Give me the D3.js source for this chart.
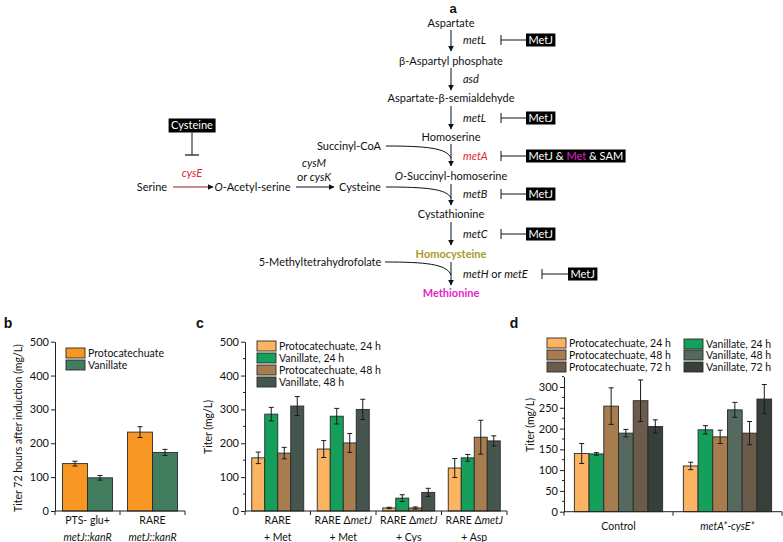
<!DOCTYPE html>
<html><head><meta charset="utf-8">
<script src="https://cdn.jsdelivr.net/npm/d3@7"></script>
<style>
body{margin:0;background:#fff;}
svg text{font-family:Lato,"Open Sans",sans-serif;fill:#111;}
</style></head><body>
<svg id="chart" width="783" height="542"></svg>
<script>
// ---------- DATA ----------
// Panel b
const bCategories = [["PTS- glu+", "<i>metJ::kanR</i>"], ["RARE", "<i>metJ::kanR</i>"]];
const bSeries = ["Protocatechuate", "Vanillate"];
const bValues = [[140, 98], [233, 173]];
const bErrors = [[7, 7], [16, 9]];
const bTicks = [0, 100, 200, 300, 400, 500];

// Panel c
const cCategories = [["RARE", "+ Met"], ["RARE Δ<i>metJ</i>", "+ Met"], ["RARE Δ<i>metJ</i>", "+ Cys"], ["RARE Δ<i>metJ</i>", "+ Asp"]];
const cSeries = ["Protocatechuate, 24 h", "Vanillate, 24 h", "Protocatechuate, 48 h", "Vanillate, 48 h"];
const cValues = [[157, 286, 171, 310], [183, 280, 201, 300], [9, 38, 9, 55], [127, 157, 218, 207]];
const cErrors = [[17, 20, 17, 28], [25, 23, 28, 30], [2, 10, 3, 12], [28, 10, 50, 15]];
const cTicks = [0, 100, 200, 300, 400, 500];

// Panel d
const dCategories = [["Control"], ["<i>metA*-cysE*</i>"]];
const dSeries = ["Protocatechuate, 24 h", "Vanillate, 24 h", "Protocatechuate, 48 h", "Vanillate, 48 h", "Protocatechuate, 72 h", "Vanillate, 72 h"];
const dValues = [[140, 139, 254, 189, 267, 205], [110, 197, 180, 245, 189, 271]];
const dErrors = [[24, 3, 44, 9, 50, 16], [9, 10, 16, 18, 28, 35]];
const dTicks = [0, 50, 100, 150, 200, 250, 300];

// ---------- DRAWING ----------
const svg = d3.select("#chart");
const defs = svg.append("defs");
defs.append("marker").attr("id", "ah").attr("viewBox", "0 0 10 10").attr("refX", 9).attr("refY", 5)
  .attr("markerWidth", 6).attr("markerHeight", 6).attr("markerUnits", "userSpaceOnUse").attr("orient", "auto")
  .append("path").attr("d", "M0,0 L10,5 L0,10 Z").attr("fill", "#111");

function dotPattern(id, base, dot) {
  const p = defs.append("pattern").attr("id", id).attr("width", 4).attr("height", 4).attr("patternUnits", "userSpaceOnUse");
  p.append("rect").attr("width", 4).attr("height", 4).attr("fill", base);
  p.append("circle").attr("cx", 1).attr("cy", 1).attr("r", 0.5).attr("fill", dot).attr("opacity", 0.5);
  p.append("circle").attr("cx", 3).attr("cy", 3).attr("r", 0.5).attr("fill", dot).attr("opacity", 0.35);
  return `url(#${id})`;
}

function rich(textSel, str, colorTag) {
  str.split(/(<[im]>.*?<\/[im]>)/).filter(s => s).forEach(s => {
    const t = textSel.append("tspan");
    if (s.startsWith("<i>")) t.text(s.slice(3, -4)).attr("font-style", "italic");
    else if (s.startsWith("<m>")) t.text(s.slice(3, -4)).style("fill", colorTag);
    else t.text(s);
  });
  return textSel;
}

function label(x, y, str, opt = {}) {
  const t = svg.append("text").attr("x", x).attr("y", y).attr("dy", "0.35em")
    .attr("text-anchor", opt.anchor || "middle").attr("font-size", opt.size || 11);
  if (opt.color) t.style("fill", opt.color);
  if (opt.weight) t.attr("font-weight", opt.weight);
  if (opt.italic) t.attr("font-style", "italic");
  return rich(t, str, opt.tagColor);
}

function barPanel(cfg) {
  const g = svg.append("g");
  const x = d3.scaleBand().domain(d3.range(cfg.cats.length)).range(cfg.xr).paddingInner(cfg.pad).paddingOuter(cfg.pad / 2);
  const xs = d3.scaleBand().domain(d3.range(cfg.series.length)).range([0, x.bandwidth()]);
  const y = d3.scaleLinear().domain([0, cfg.ymax]).range(cfg.yr);
  cfg.cats.forEach((c, ci) => cfg.series.forEach((s, si) => {
    const v = cfg.values[ci][si], e = cfg.errors[ci][si];
    const bx = x(ci) + xs(si), w = xs.bandwidth(), cx = bx + w / 2;
    g.append("rect").attr("x", bx).attr("y", y(v)).attr("width", w).attr("height", y(0) - y(v))
      .attr("fill", cfg.fills[si]).attr("stroke", "#2a2a2a").attr("stroke-width", 0.9);
    g.append("line").attr("x1", cx).attr("x2", cx).attr("y1", y(v + e)).attr("y2", y(Math.max(0, v - e))).attr("stroke", "#1a1a1a").attr("stroke-width", 1);
    [v + e, Math.max(0, v - e)].forEach(yy => g.append("line").attr("x1", cx - 2.5).attr("x2", cx + 2.5)
      .attr("y1", y(yy)).attr("y2", y(yy)).attr("stroke", "#1a1a1a").attr("stroke-width", 1));
  }));
  // y axis
  const ax = g.append("g").attr("transform", `translate(${cfg.xr[0]},0)`)
    .call(d3.axisLeft(y).tickValues(cfg.ticks).tickSize(4).tickSizeOuter(0).tickPadding(2).tickFormat(d3.format("d")));
  ax.selectAll("text").attr("font-size", 11).style("font-family", "Lato, sans-serif").style("fill", "#111");
  ax.selectAll("path,line").attr("stroke", "#222");
  if (cfg.minor) {
    d3.range(0, cfg.ymax + 0.1, cfg.minor).filter(v => !cfg.ticks.includes(v)).forEach(v =>
      g.append("line").attr("x1", cfg.xr[0] - 2).attr("x2", cfg.xr[0]).attr("y1", y(v)).attr("y2", y(v)).attr("stroke", "#222"));
  }
  // baseline and category ticks
  g.append("line").attr("x1", cfg.xr[0]).attr("x2", cfg.xr[1]).attr("y1", y(0)).attr("y2", y(0)).attr("stroke", "#222");
  d3.range(cfg.cats.length + 1).forEach(k => {
    const xx = cfg.xr[0] + k * x.step();
    g.append("line").attr("x1", xx).attr("x2", xx).attr("y1", y(0)).attr("y2", y(0) + 4).attr("stroke", "#222");
  });
  // category labels
  cfg.cats.forEach((c, ci) => c.forEach((line, li) =>
    label(x(ci) + x.bandwidth() / 2, cfg.catY[li], line, { size: 10.5 })));
  // y title
  svg.append("text").attr("transform", `translate(${cfg.titleX},${cfg.titleY}) rotate(-90)`)
    .attr("text-anchor", "middle").attr("dy", "0.35em").attr("font-size", 10.5).text(cfg.title);
  // legend
  cfg.legend.forEach(L => {
    g.append("rect").attr("x", L.x).attr("y", L.y - 5).attr("width", 19).attr("height", 10)
      .attr("fill", cfg.fills[L.i]).attr("stroke", "#2a2a2a").attr("stroke-width", 0.9);
    label(L.x + 22, L.y, cfg.series[L.i], { anchor: "start", size: 10.5 });
  });
}

// Panel b
const bFills = [dotPattern("po", "#F7941E", "#ffd9a0"), dotPattern("pg", "#3F7A5B", "#8fbfa5")];
barPanel({
  cats: bCategories, series: bSeries, values: bValues, errors: bErrors, fills: bFills,
  xr: [55, 185], yr: [511, 341.7], ymax: 500, ticks: bTicks, pad: 0.23,
  catY: [520, 537], title: "Titer 72 hours after induction (mg/L)", titleX: 18, titleY: 428,
  legend: [{ i: 0, x: 66, y: 353 }, { i: 1, x: 66, y: 365 }]
});

// Panel c
const cFills = ["#FDB462", "#14A05B", "#A77D4F", "#46554D"];
barPanel({
  cats: cCategories, series: cSeries, values: cValues, errors: cErrors, fills: cFills,
  xr: [245, 507], yr: [511, 341.7], ymax: 500, ticks: cTicks, minor: 50, pad: 0.206,
  catY: [520, 537], title: "Titer (mg/L)", titleX: 208, titleY: 427,
  legend: [{ i: 0, x: 257, y: 346 }, { i: 1, x: 257, y: 358 }, { i: 2, x: 257, y: 370 }, { i: 3, x: 257, y: 382 }]
});

// Panel d
const dFills = ["#FDB462", "#14A05B", "#A77D4F", "#56695E", "#6B5B4B", "#373F3B"];
barPanel({
  cats: dCategories, series: dSeries, values: dValues, errors: dErrors, fills: dFills,
  xr: [564, 782], yr: [511.7, 376.6], ymax: 325, ticks: dTicks, minor: 25, pad: 0.19,
  catY: [526], title: "Titer (mg/L)", titleX: 530, titleY: 425,
  legend: [{ i: 0, x: 547, y: 343 }, { i: 2, x: 547, y: 355 }, { i: 4, x: 547, y: 367 },
           { i: 1, x: 684, y: 344 }, { i: 3, x: 684, y: 355 }, { i: 5, x: 684, y: 367 }]
});

// Panel letters
[["a", 453, 8, 13], ["b", 8, 323, 14], ["c", 200, 323, 14], ["d", 514, 323, 14]].forEach(([s, x, y, fs]) =>
  svg.append("text").attr("x", x).attr("y", y).attr("dy", "0.35em").attr("text-anchor", "middle")
    .attr("font-size", fs).attr("font-weight", "bold").style("font-family", "Liberation Sans, Arial, sans-serif").text(s));

// ---------- Panel a: pathway ----------
const mainX = 451;
const pathNodes = [
  ["Aspartate", 23], ["β-Aspartyl phosphate", 61], ["Aspartate-β-semialdehyde", 98], ["Homoserine", 137],
  ["<i>O</i>-Succinyl-homoserine", 176], ["Cystathionine", 214]
];
pathNodes.forEach(([s, y]) => label(mainX, y, s));
label(mainX, 254, "Homocysteine", { weight: "bold", color: "#A89B2C" });
label(mainX, 293, "Methionine", { weight: "bold", color: "#E31FC8" });

const arrowsY = [[30, 51], [68, 90], [106, 129], [144, 166], [184, 205], [222, 245], [262, 285]];
arrowsY.forEach(([a, b]) => svg.append("line").attr("x1", mainX).attr("x2", mainX).attr("y1", a).attr("y2", b)
  .attr("stroke", "#111").attr("stroke-width", 1).attr("marker-end", "url(#ah)"));

const enzymes = [["<i>metL</i>", 40], ["<i>asd</i>", 79], ["<i>metL</i>", 118], ["<i>metA</i>", 156, "#E0242F"],
  ["<i>metB</i>", 194], ["<i>metC</i>", 234], ["<i>metH</i> or <i>metE</i>", 274]];
enzymes.forEach(([s, y, c]) => label(463, y, s, { anchor: "start", color: c }));

function inhibit(xBar, y, boxX, str) {
  svg.append("line").attr("x1", xBar).attr("x2", xBar).attr("y1", y - 5).attr("y2", y + 5).attr("stroke", "#111");
  svg.append("line").attr("x1", xBar).attr("x2", boxX).attr("y1", y).attr("y2", y).attr("stroke", "#111");
  const t = label(boxX + 2.5, y, str, { anchor: "start", color: "#fff", tagColor: "#E31FC8" });
  const bb = t.node().getBBox();
  svg.insert("rect", () => t.node()).attr("x", boxX).attr("y", y - 6.5).attr("width", bb.width + 5).attr("height", 13).attr("fill", "#000");
}
[[40], [118], [194], [234]].forEach(([y]) => inhibit(501, y, 526, "MetJ"));
inhibit(501, 156, 526, "MetJ & <m>Met</m> & SAM");
inhibit(542, 274, 568, "MetJ");

// left branch
(function () {
  const t = label(192, 125.5, "Cysteine", { color: "#fff" });
  const bb = t.node().getBBox();
  svg.insert("rect", () => t.node()).attr("x", bb.x - 2.5).attr("y", 118.5).attr("width", bb.width + 5).attr("height", 14).attr("fill", "#000");
})();
svg.append("line").attr("x1", 192).attr("x2", 192).attr("y1", 132.5).attr("y2", 155).attr("stroke", "#111");
svg.append("line").attr("x1", 185).attr("x2", 199).attr("y1", 155).attr("y2", 155).attr("stroke", "#111").attr("stroke-width", 1.2);
label(192, 173, "<i>cysE</i>", { color: "#E0242F" });
label(152, 187, "Serine");
svg.append("line").attr("x1", 173).attr("x2", 213).attr("y1", 187).attr("y2", 187).attr("stroke", "#8A1F1F").attr("marker-end", "url(#ah)");
label(252.5, 187, "<i>O</i>-Acetyl-serine");
label(314, 163, "<i>cysM</i>");
label(314, 177, "or  <i>cysK</i>");
svg.append("line").attr("x1", 296).attr("x2", 334).attr("y1", 187).attr("y2", 187).attr("stroke", "#111").attr("marker-end", "url(#ah)");
label(360, 187, "Cysteine");
label(349, 146, "Succinyl-CoA");
label(320, 262, "5-Methyltetrahydrofolate");
[[386, 146, 158], [386, 187, 198], [385, 262, 275]].forEach(([x0, y0, y1]) =>
  svg.append("path").attr("d", `M${x0},${y0} C${x0 + 40},${y0} ${mainX - 4},${y0 + 2} ${mainX},${y1}`)
    .attr("fill", "none").attr("stroke", "#111").attr("stroke-width", 1));
</script>
</body></html>
